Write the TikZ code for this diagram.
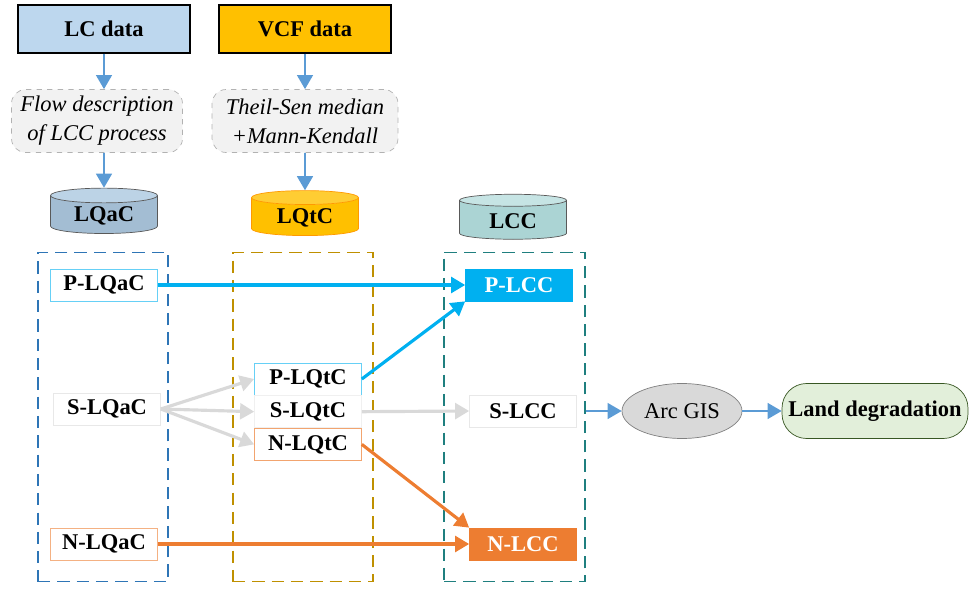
\documentclass[tikz,border=0pt]{standalone}
\usepackage{fontspec}
\setmainfont{Liberation Serif}
\usetikzlibrary{arrows.meta, positioning, shapes.geometric}

\definecolor{lcfill}{HTML}{BDD7EE}
\definecolor{vcffill}{HTML}{FFC000}
\definecolor{flowblue}{HTML}{5B9BD5}
\definecolor{posblue}{HTML}{00B0F0}
\definecolor{negorange}{HTML}{ED7D31}
\definecolor{stablegray}{HTML}{D9D9D9}
\definecolor{procfill}{HTML}{F2F2F2}
\definecolor{landfill}{HTML}{E2EFDA}
\definecolor{landdraw}{HTML}{385723}
\definecolor{boxablue}{HTML}{2E75B6}
\definecolor{boxtgold}{HTML}{BF9000}
\definecolor{boxcteal}{HTML}{1F7F7F}
\definecolor{lqacbody}{HTML}{A3BDD3}
\definecolor{lqacend}{HTML}{BCD3E6}
\definecolor{lccbody}{HTML}{ABD4D4}
\definecolor{lccend}{HTML}{C6E4E4}

\begin{document}
\begin{tikzpicture}[
  x=0.02cm, y=-0.02cm,
  every node/.style={font=\fontsize{12.8}{16.5}\selectfont, inner sep=2pt},
  src/.style={draw=black, thick, minimum width=3.44cm, minimum height=0.96cm,
    font=\bfseries\fontsize{12.8}{16.5}\selectfont},
  proc/.style={draw=gray!60, dashed, fill=procfill, rounded corners=8pt,
    minimum height=1.26cm, align=center,
    font=\itshape\fontsize{12.8}{16.5}\selectfont},
  cyl/.style={cylinder, shape border rotate=90, aspect=0.22, draw,
    minimum width=2.14cm, minimum height=0.9cm, cylinder uses custom fill,
    font=\bfseries\fontsize{12.8}{16.5}\selectfont},
  colbox/.style={draw, dashed, dash pattern=on 7pt off 4pt, semithick,
    minimum width=2.6cm, minimum height=6.6cm},
  cls/.style={draw, minimum width=2.14cm, minimum height=0.64cm,
    font=\bfseries\fontsize{12.8}{16.5}\selectfont},
  arr/.style={-{Triangle[length=8pt, width=9pt]}, line width=1.1pt, flowblue},
  thk/.style={-{Triangle[length=8pt, width=9pt]}, line width=1.8pt}
]
  \useasboundingbox (0,0) rectangle (980,591);

  % inputs
  \node[src, fill=lcfill] (lc) at (104,29) {LC data};
  \node[src, fill=vcffill] (vcf) at (305,29) {VCF data};
  \node[proc, minimum width=3.42cm] (flow) at (97,121)
    {Flow description\\of LCC process};
  \node[proc, minimum width=3.72cm] (trend) at (305,121)
    {Theil-Sen median\\+Mann-Kendall};

  % databases
  \node[cyl, draw=gray!70!black, cylinder body fill=lqacbody,
    cylinder end fill=lqacend] (lqac) at (104,216) {LQaC};
  \node[cyl, draw=orange!80!yellow, cylinder body fill=vcffill,
    cylinder end fill=vcffill!80!white] (lqtc) at (305,218) {LQtC};
  \node[cyl, draw=gray!70!black, cylinder body fill=lccbody,
    cylinder end fill=lccend] (lcc) at (513,221) {LCC};

  % columns
  \node[colbox, draw=boxablue] (boxa) at (103,417) {};
  \node[colbox, draw=boxtgold, minimum width=2.8cm] (boxt) at (303,417) {};
  \node[colbox, draw=boxcteal, minimum width=2.82cm] (boxc) at (514.5,417) {};

  \node[cls, draw=posblue!60] (plqac) at (104,285) {P-LQaC};
  \node[cls, draw=stablegray!60] (slqac) at (107,409) {S-LQaC};
  \node[cls, draw=negorange!60] (nlqac) at (104,544) {N-LQaC};

  \node[cls, draw=posblue!60] (plqtc) at (308,379) {P-LQtC};
  \node[cls, draw=stablegray!40, below=0pt of plqtc] (slqtc) {S-LQtC};
  \node[cls, draw=negorange!70, below=0pt of slqtc] (nlqtc) {N-LQtC};

  \node[cls, draw=posblue, fill=posblue, text=white] (plcc) at (519,285) {P-LCC};
  \node[cls, draw=stablegray!60] (slcc) at (523,411) {S-LCC};
  \node[cls, draw=negorange, fill=negorange, text=white] (nlcc) at (523,544) {N-LCC};

  \node[ellipse, draw=gray, fill=stablegray, minimum width=2.4cm,
    minimum height=1.1cm] (gis) at (682,411) {Arc GIS};
  \node[draw=landdraw, fill=landfill, rounded corners=14pt, minimum width=3.72cm,
    minimum height=1.1cm, font=\bfseries\fontsize{12.8}{16.5}\selectfont]
    (land) at (875,411) {Land degradation};

  % flow arrows
  \draw[arr] (lc.south) -- (lc.south |- flow.north);
  \draw[arr] (vcf.south) -- (trend.north);
  \draw[arr] (flow.south -| lqac) -- (lqac.north);
  \draw[arr] (trend.south) -- (lqtc.north);

  \draw[thk, posblue] (plqac.east) -- (plqac.east -| plcc.west);
  \draw[thk, posblue] (plqtc.east) -- (plcc.south west);
  \foreach \t in {plqtc, slqtc, nlqtc}
    \draw[thk, stablegray] (slqac.east) -- (\t.west);
  \draw[thk, stablegray] (slqtc.east) -- (slcc.west);
  \draw[thk, negorange] (nlqtc.east) -- (nlcc.north west);
  \draw[thk, negorange] (nlqac.east) -- (nlcc.west);

  \draw[arr] (boxc.east |- slcc) -- (gis.west);
  \draw[arr] (gis.east) -- (land.west);
\end{tikzpicture}
\end{document}
